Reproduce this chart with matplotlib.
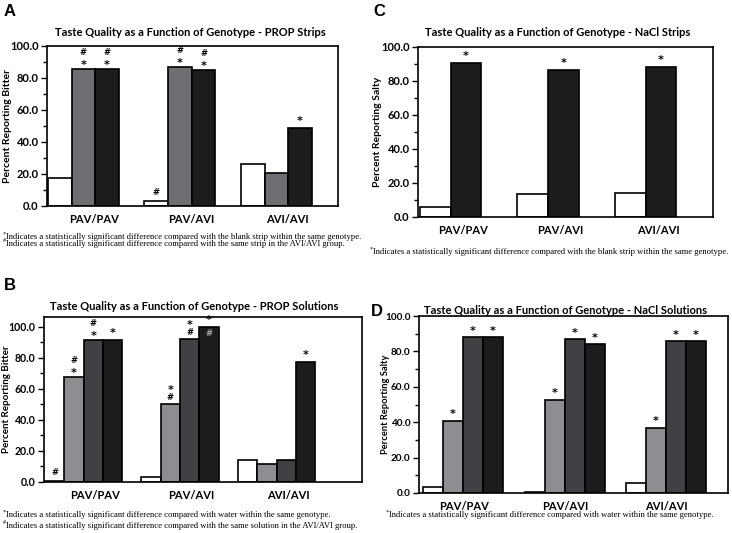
import matplotlib
matplotlib.use("Agg")
import matplotlib.pyplot as plt
from matplotlib.ticker import MultipleLocator, FormatStrFormatter

W, H = 732, 533

genotypes = ["PAV/PAV", "PAV/AVI", "AVI/AVI"]

# A - PROP strips
prop_strip_blank = [17.7, 3.1, 26.0]
prop_strip_mid = [85.5, 87.1, 20.4]
prop_strip_high = [85.5, 84.8, 49.0]
prop_strip_marks = [["", "#*", "#*"], ["#", "#*", "#*"], ["", "", "*"]]

# C - NaCl strips
nacl_strip_blank = [5.8, 13.3, 14.3]
nacl_strip_salt = [90.8, 86.7, 88.5]
nacl_strip_marks = [["", "*"], ["", "*"], ["", "*"]]

# B - PROP solutions
prop_sol_water = [0.5, 3.2, 14.4]
prop_sol_low = [67.7, 50.0, 11.6]
prop_sol_mid = [91.4, 92.1, 14.4]
prop_sol_high = [91.4, 100.0, 77.4]
prop_sol_marks = [["#", "#*", "#*", "*"], ["", "*#", "*#", "*"], ["", "", "", "*"]]
prop_sol_inside = [["", "", "", ""], ["", "", "", "#"], ["", "", "", ""]]

# D - NaCl solutions
nacl_sol_water = [3.2, 0.6, 5.7]
nacl_sol_low = [40.9, 52.7, 36.9]
nacl_sol_mid = [88.0, 86.9, 85.8]
nacl_sol_high = [88.0, 84.1, 85.8]
nacl_sol_marks = [["", "*", "*", "*"], ["", "*", "*", "*"], ["", "*", "*", "*"]]

WHITE = "#ffffff"
GREY = "#6e6f72"
LIGHT = "#8d8e91"
DARK = "#404145"
BLACK = "#1c1c1e"

SANS = "Lato"
MARK = "DejaVu Sans"
SERIF = "Liberation Serif"

fig = plt.figure(figsize=(W / 100, H / 100), dpi=100)


def px_axes(l, t, r, b):
    return fig.add_axes([l / W, 1 - b / H, (r - l) / W, (b - t) / H])


def mark(ax, ch, xy, dy, color="black"):
    # star glyph sits high in its box, so pull it down a little
    size = 8 if ch == "*" else 6
    shift = -2.5 if ch == "*" else 0
    ax.annotate(ch, xy, xytext=(0, (dy + shift) * 0.72),
                textcoords="offset points", ha="center", va="center",
                fontsize=size, fontweight="bold", family=MARK,
                color=color, zorder=3)


def panel(box, series, colors, marks, width, xlim, ylim, lab_off, title, title_xy,
          ylabel, ylabel_x, letter, letter_xy, fs=1.0, inside=None):
    ax = px_axes(*box)
    for j, (vals, c) in enumerate(zip(series, colors)):
        xs = [i + j * width for i in range(len(vals))]
        ax.bar(xs, vals, width=width, align="edge", color=c,
               edgecolor="black", linewidth=1.2, zorder=2)
        for i, v in enumerate(vals):
            m = marks[i][j]
            xc = xs[i] + width / 2
            base = 9 if len(m) == 1 else 6.5
            for k, ch in enumerate(reversed(m)):
                mark(ax, ch, (xc, v), base + 10 * k)
            if inside and inside[i][j]:
                mark(ax, inside[i][j], (xc, v), -7, color="#a8a8a8")
    ax.set_xlim(*xlim)
    ax.set_ylim(*ylim)
    ax.set_xticks([i + lab_off for i in range(len(genotypes))])
    ax.set_xticklabels(genotypes, fontsize=8, fontweight="bold", family=SANS)
    ax.tick_params(axis="x", length=0, pad=6)
    ax.yaxis.set_major_locator(MultipleLocator(20))
    ax.yaxis.set_minor_locator(MultipleLocator(10))
    ax.yaxis.set_major_formatter(FormatStrFormatter("%.1f"))
    ax.tick_params(axis="y", which="major", length=4, width=1, direction="out", pad=2)
    ax.tick_params(axis="y", which="minor", length=3, width=1, direction="out")
    for lbl in ax.get_yticklabels():
        lbl.set_fontweight("bold")
        lbl.set_fontsize(8 * fs)
        lbl.set_family(SANS)
    for s in ax.spines.values():
        s.set_linewidth(1.2)
    fig.text(title_xy[0] / W, 1 - title_xy[1] / H, title, fontsize=8,
             fontweight="bold", family=SANS, ha="center", va="center")
    ax.set_ylabel(ylabel, fontsize=7.5 * fs, fontweight="bold", family=SANS, va="center")
    ax.yaxis.set_label_coords((ylabel_x - box[0]) / (box[2] - box[0]), 0.5)
    fig.text(letter_xy[0] / W, 1 - letter_xy[1] / H, letter, fontsize=12,
             fontweight="bold", family="Liberation Sans", ha="left", va="center")
    return ax


def footnote(x, y, sym, text):
    fig.text(x / W, 1 - (y - 3) / H, sym, fontsize=4.5, family=SERIF, ha="left", va="center")
    fig.text((x + 3) / W, 1 - y / H, text, fontsize=6.2, family=SERIF, ha="left", va="center")


panel((47, 46, 338, 206), [prop_strip_blank, prop_strip_mid, prop_strip_high],
      [WHITE, GREY, BLACK], prop_strip_marks, 0.245, (-0.01, 3.005), (0, 100), 0.48,
      "Taste Quality as a Function of Genotype - PROP Strips", (190, 32),
      "Percent Reporting Bitter", 8, "A", (4, 12))

panel((418, 47, 713, 217), [nacl_strip_blank, nacl_strip_salt],
      [WHITE, BLACK], nacl_strip_marks, 0.315, (-0.02, 3.005), (0, 100), 0.44,
      "Taste Quality as a Function of Genotype - NaCl Strips", (558, 32),
      "Percent Reporting Salty", 378, "C", (373, 12))

panel((44, 317, 362, 482), [prop_sol_water, prop_sol_low, prop_sol_mid, prop_sol_high],
      [WHITE, LIGHT, DARK, BLACK], prop_sol_marks, 0.2, (-0.01, 3.285), (0, 106.2), 0.52,
      "Taste Quality as a Function of Genotype - PROP Solutions", (194, 306),
      "Percent Reporting Bitter", 7, "B", (4, 285), fs=0.95, inside=prop_sol_inside)

panel((419, 316, 728, 493), [nacl_sol_water, nacl_sol_low, nacl_sol_mid, nacl_sol_high],
      [WHITE, LIGHT, DARK, BLACK], nacl_sol_marks, 0.197, (-0.04, 3.005), (0, 100), 0.4,
      "Taste Quality as a Function of Genotype - NaCl Solutions", (566, 310),
      "Percent Reporting Salty", 385, "D", (371, 312), fs=0.9)

footnote(3, 237, "*", "Indicates a statistically significant difference compared with the blank strip within the same genotype.")
footnote(3, 244, "#", "Indicates a statistically significant difference compared with the same strip in the AVI/AVI group.")
footnote(370, 252, "*", "Indicates a statistically significant difference compared with the blank strip within the same genotype.")
footnote(3, 515, "*", "Indicates a statistically significant difference compared with water within the same genotype.")
footnote(3, 526, "#", "Indicates a statistically significant difference compared with the same solution in the AVI/AVI group.")
footnote(386, 515, "*", "Indicates a statistically significant difference compared with water within the same genotype.")

fig.savefig("out.png", dpi=100)
